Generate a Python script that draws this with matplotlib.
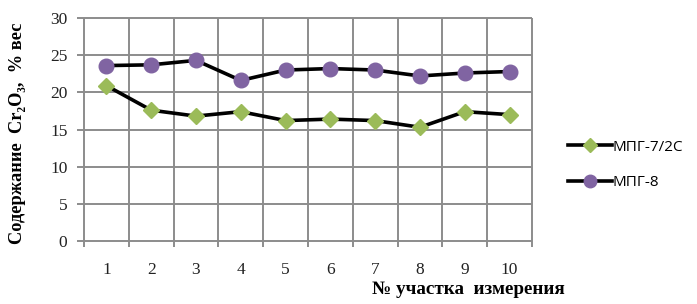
import numpy as np
from matplotlib import pyplot as plt
from matplotlib.lines import Line2D

# data
sites = [1, 2, 3, 4, 5, 6, 7, 8, 9, 10]
mpg_72c = [20.9, 17.6, 16.8, 17.4, 16.2, 16.4, 16.2, 15.3, 17.4, 17.0]
mpg_8 = [23.6, 23.7, 24.3, 21.6, 23.0, 23.2, 23.0, 22.2, 22.6, 22.8]
yticks = [0, 5, 10, 15, 20, 25, 30]

serif = ['Liberation Serif', 'DejaVu Serif']
green = '#9BBB59'
purple = '#8064A2'
grid_c = '#8C8C8C'

fig = plt.figure(figsize=(6.97, 3.04), dpi=100)
ax = fig.add_axes([84/697, 1 - 241/304, 448/697, 223/304])

x = np.arange(len(sites))
ax.plot(x, mpg_72c, '-', color='black', lw=2.6, marker='D', ms=8,
        mfc=green, mec=green, zorder=3)
ax.plot(x, mpg_8, '-', color='black', lw=2.6, marker='o', ms=10.5,
        mfc=purple, mec=purple, zorder=3)

ax.set_xlim(-0.5, len(sites) - 0.5)
ax.set_ylim(0, 30)
ax.set_yticks(yticks)
ax.set_xticks(x)
ax.set_xticklabels([str(s) for s in sites])

# grid drawn as plain lines: category borders and value levels
borders = np.arange(-0.5, len(sites))
for v in yticks:
    ax.plot([-0.65, len(sites) - 0.5], [v, v], color=grid_c, lw=1.4,
            zorder=1, clip_on=False, snap=True, solid_capstyle='butt')
for b in borders:
    ax.plot([b, b], [-0.75, 30], color=grid_c, lw=1.4,
            zorder=1, clip_on=False, snap=True, solid_capstyle='butt')

for s in ax.spines.values():
    s.set_visible(False)

ax.tick_params(axis='y', length=0, pad=12)
ax.tick_params(axis='x', length=0, pad=15)
for lab in ax.get_xticklabels() + ax.get_yticklabels():
    lab.set_family(serif)
    lab.set_fontsize(12.5)
    lab.set_color('#222222')

fig.text(18/697, 1 - 133/304, 'Содержание  Cr\u2082O\u2083,  % вес', rotation=90,
         family=serif, fontsize=13.2, fontweight='bold', ha='center', va='center')
fig.text(468/697, 1 - 289/304, '№ участка  измерения', family=serif,
         fontsize=13.8, fontweight='bold', ha='center', va='center')

handles = [
    Line2D([], [], color='black', lw=2.6, marker='D', ms=7, mfc=green, mec=green),
    Line2D([], [], color='black', lw=2.6, marker='o', ms=9, mfc=purple, mec=purple),
]
fig.legend(handles, ['МПГ-7/2С', 'МПГ-8'], loc='center left',
           bbox_to_anchor=(560/697, 1 - 165/304), frameon=False,
           prop={'family': 'Open Sans', 'size': 11}, handlelength=2.9,
           handletextpad=0.05, labelspacing=1.35, borderpad=0)

fig.savefig('out.png', dpi=100)
